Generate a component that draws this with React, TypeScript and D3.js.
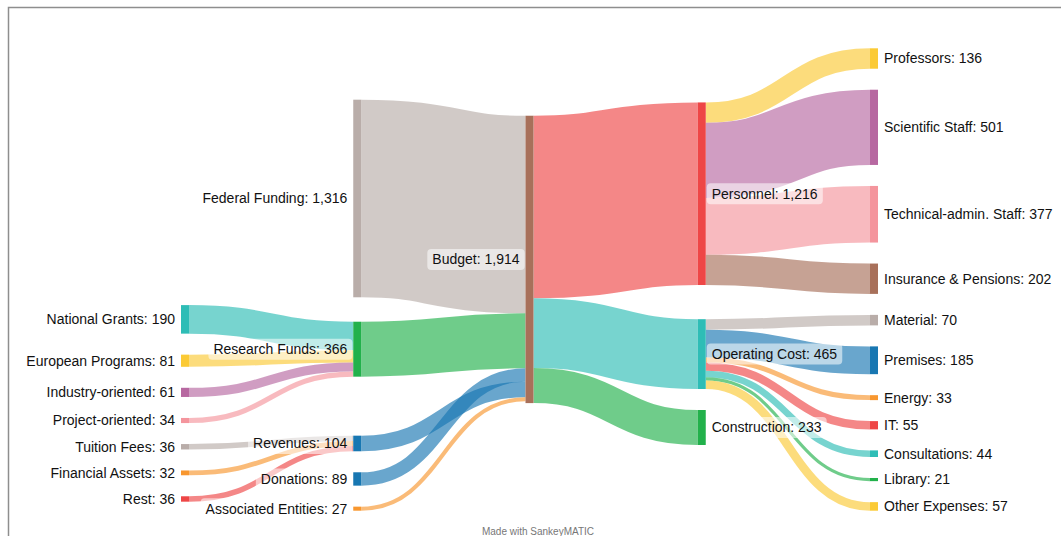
import React, { useEffect, useRef } from 'react';
import * as d3 from 'd3';

const WIDTH = 1061;
const HEIGHT = 536;

const TEAL = '#2ebdb6';
const YELLOW = '#fbca35';
const PURPLE = '#b768a1';
const PINK = '#f4959d';
const GRAY = '#b9ada9';
const ORANGE = '#f8972f';
const RED = '#ee4646';
const GREEN = '#22b14b';
const BLUE = '#1877b2';
const BROWN = '#a8705a';

const nodeNames = [
  'National Grants', 'European Programs', 'Industry-oriented', 'Project-oriented',
  'Tuition Fees', 'Financial Assets', 'Rest',
  'Federal Funding', 'Research Funds', 'Revenues', 'Donations', 'Associated Entities',
  'Budget',
  'Personnel', 'Operating Cost', 'Construction',
  'Professors', 'Scientific Staff', 'Technical-admin. Staff', 'Insurance & Pensions',
  'Material', 'Premises', 'Energy', 'IT', 'Consultations', 'Library', 'Other Expenses',
];

const nodeColors = [
  TEAL, YELLOW, PURPLE, PINK, GRAY, ORANGE, RED,
  GRAY, GREEN, BLUE, BLUE, ORANGE,
  BROWN,
  RED, TEAL, GREEN,
  YELLOW, PURPLE, PINK, BROWN,
  GRAY, BLUE, ORANGE, RED, TEAL, GREEN, YELLOW,
];

const flowFrom = [
  'National Grants', 'European Programs', 'Industry-oriented', 'Project-oriented',
  'Tuition Fees', 'Financial Assets', 'Rest',
  'Federal Funding', 'Research Funds', 'Revenues', 'Donations', 'Associated Entities',
  'Budget', 'Budget', 'Budget',
  'Personnel', 'Personnel', 'Personnel', 'Personnel',
  'Operating Cost', 'Operating Cost', 'Operating Cost', 'Operating Cost',
  'Operating Cost', 'Operating Cost', 'Operating Cost',
];
const flowTo = [
  'Research Funds', 'Research Funds', 'Research Funds', 'Research Funds',
  'Revenues', 'Revenues', 'Revenues',
  'Budget', 'Budget', 'Budget', 'Budget', 'Budget',
  'Personnel', 'Operating Cost', 'Construction',
  'Professors', 'Scientific Staff', 'Technical-admin. Staff', 'Insurance & Pensions',
  'Material', 'Premises', 'Energy', 'IT', 'Consultations', 'Library', 'Other Expenses',
];
const flowValues = [
  190, 81, 61, 34,
  36, 32, 36,
  1316, 366, 104, 89, 27,
  1216, 465, 233,
  136, 501, 377, 202,
  70, 185, 33, 55, 44, 21, 57,
];

const LEFT = 181;
const RIGHT = 878;
const TOP = 48.3;
const BOTTOM = 510.7;
const NODE_W = 8;
const PAD = 21;
const ITERATIONS = 25;
const SPREAD = 0.39;
const LINK_OPACITY = 0.65;

interface SNode {
  name: string; color: string; value: number; col: number; index: number;
  x: number; y0: number; y1: number;
  sourceLinks: SLink[]; targetLinks: SLink[];
}
interface SLink { source: SNode; target: SNode; value: number; width: number; ys: number; yt: number; index: number; }

function layout() {
  const nodes: SNode[] = nodeNames.map((name, i) => ({
    name, color: nodeColors[i], value: 0, col: 0, index: i, x: 0, y0: 0, y1: 0, sourceLinks: [], targetLinks: [],
  }));
  const byName = new Map(nodes.map((n) => [n.name, n]));
  const links: SLink[] = flowValues.map((v, i) => {
    const l = { source: byName.get(flowFrom[i])!, target: byName.get(flowTo[i])!, value: v, width: 0, ys: 0, yt: 0, index: i };
    l.source.sourceLinks.push(l);
    l.target.targetLinks.push(l);
    return l;
  });
  nodes.forEach((n) => {
    n.value = Math.max(d3.sum(n.sourceLinks, (l) => l.value), d3.sum(n.targetLinks, (l) => l.value));
  });
  let remaining: SNode[] = nodes;
  let c = 0;
  while (remaining.length) {
    const next: SNode[] = [];
    remaining.forEach((n) => {
      n.col = c;
      n.sourceLinks.forEach((l) => { if (next.indexOf(l.target) < 0) next.push(l.target); });
    });
    remaining = next;
    c++;
  }
  nodes.forEach((n) => {
    if (!n.targetLinks.length && n.sourceLinks.length) {
      n.col = (d3.min(n.sourceLinks, (l) => l.target.col) as number) - 1;
    }
  });
  const maxCol = d3.max(nodes, (n) => n.col) as number;
  const xScale = d3.scaleLinear().domain([0, maxCol]).range([LEFT, RIGHT - NODE_W]);
  nodes.forEach((n) => { n.x = xScale(n.col); });

  const columns: SNode[][] = d3.range(maxCol + 1).map((k) => nodes.filter((n) => n.col === k));
  const py = Math.min(PAD, (BOTTOM - TOP) / ((d3.max(columns, (col) => col.length) as number) - 1));

  const byTarget = (a: SLink, b: SLink) => (a.target.y0 - b.target.y0) || (a.index - b.index);
  const bySource = (a: SLink, b: SLink) => (a.source.y0 - b.source.y0) || (a.index - b.index);
  const reorderLinks = (col: SNode[]) => col.forEach((n) => { n.sourceLinks.sort(byTarget); n.targetLinks.sort(bySource); });
  const reorderNodeLinks = (n: SNode) => {
    n.targetLinks.forEach((l) => l.source.sourceLinks.sort(byTarget));
    n.sourceLinks.forEach((l) => l.target.targetLinks.sort(bySource));
  };

  const ky = d3.min(columns, (col) => (BOTTOM - TOP - (col.length - 1) * py) / d3.sum(col, (n) => n.value)) as number;
  links.forEach((l) => { l.width = l.value * ky; });
  columns.forEach((col) => {
    let y = TOP;
    col.forEach((n) => { n.y0 = y; n.y1 = y + n.value * ky; y = n.y1 + py; });
    const extra = (BOTTOM - y + py) / (col.length + 1);
    col.forEach((n, i) => { n.y0 += extra * (i + 1); n.y1 += extra * (i + 1); });
    reorderLinks(col);
  });

  const topToBottom = (col: SNode[], y: number, i: number, a: number) => {
    for (; i < col.length; ++i) {
      const n = col[i];
      const d = (y - n.y0) * a;
      if (d > 1e-6) { n.y0 += d; n.y1 += d; }
      y = n.y1 + py;
    }
  };
  const bottomToTop = (col: SNode[], y: number, i: number, a: number) => {
    for (; i >= 0; --i) {
      const n = col[i];
      const d = (n.y1 - y) * a;
      if (d > 1e-6) { n.y0 -= d; n.y1 -= d; }
      y = n.y0 - py;
    }
  };
  const resolve = (col: SNode[], a: number) => {
    const i = col.length >> 1;
    const s = col[i];
    bottomToTop(col, s.y0 - py, i - 1, a);
    topToBottom(col, s.y1 + py, i + 1, a);
    bottomToTop(col, BOTTOM, col.length - 1, a);
    topToBottom(col, TOP, 0, a);
  };
  const targetTop = (source: SNode, target: SNode) => {
    let y = source.y0 - SPREAD * (source.sourceLinks.length - 1) * py / 2;
    for (const l of source.sourceLinks) { if (l.target === target) break; y += l.width + py; }
    for (const l of target.targetLinks) { if (l.source === source) break; y -= l.width; }
    return y;
  };
  const sourceTop = (source: SNode, target: SNode) => {
    let y = target.y0 - SPREAD * (target.targetLinks.length - 1) * py / 2;
    for (const l of target.targetLinks) { if (l.source === source) break; y += l.width + py; }
    for (const l of source.sourceLinks) { if (l.target === target) break; y -= l.width; }
    return y;
  };
  const relaxLR = (a: number, b: number) => {
    for (let i = 1; i < columns.length; ++i) {
      const col = columns[i];
      col.forEach((t) => {
        let y = 0; let w = 0;
        t.targetLinks.forEach((l) => {
          const v = l.value * (t.col - l.source.col);
          y += targetTop(l.source, t) * v; w += v;
        });
        if (!(w > 0)) return;
        const d = (y / w - t.y0) * a;
        t.y0 += d; t.y1 += d;
        reorderNodeLinks(t);
      });
      resolve(col, b);
    }
  };
  const relaxRL = (a: number, b: number) => {
    for (let i = columns.length - 2; i >= 0; --i) {
      const col = columns[i];
      col.forEach((s) => {
        let y = 0; let w = 0;
        s.sourceLinks.forEach((l) => {
          const v = l.value * (l.target.col - s.col);
          y += sourceTop(s, l.target) * v; w += v;
        });
        if (!(w > 0)) return;
        const d = (y / w - s.y0) * a;
        s.y0 += d; s.y1 += d;
        reorderNodeLinks(s);
      });
      resolve(col, b);
    }
  };
  for (let i = 0; i < ITERATIONS; ++i) {
    const a = Math.pow(0.99, i);
    const b = Math.max(1 - a, (i + 1) / ITERATIONS);
    relaxRL(a, b);
    relaxLR(a, b);
  }
  nodes.forEach((n) => {
    let ys = n.y0; let yt = n.y0;
    n.sourceLinks.forEach((l) => { l.ys = ys + l.width / 2; ys += l.width; });
    n.targetLinks.forEach((l) => { l.yt = yt + l.width / 2; yt += l.width; });
  });
  return { nodes, links, maxCol };
}

export default function App() {
  const ref = useRef<SVGSVGElement>(null);
  useEffect(() => {
    document.body.style.margin = '0';
    const svg = d3.select(ref.current!);
    svg.selectAll('*').remove();
    const { nodes, links, maxCol } = layout();
    const mid = maxCol / 2;
    const fmt = d3.format(',');

    svg.append('rect').attr('x', 8.5).attr('y', 7.5).attr('width', 1200).attr('height', 700)
      .attr('fill', 'none').attr('stroke', '#8e8e8e').attr('stroke-width', 1.5);

    const linkGen = d3.linkHorizontal<any, [number, number]>().source((d: any) => d[0]).target((d: any) => d[1]);

    svg.append('g').selectAll('path').data(links).join('path')
      .attr('d', (l) => linkGen([
        [l.source.x + NODE_W, l.ys],
        [l.target.x, l.yt],
      ] as any))
      .attr('fill', 'none')
      .attr('stroke', (l) => (l.target.col > mid ? l.target.color : l.source.color))
      .attr('stroke-opacity', LINK_OPACITY)
      .attr('stroke-width', (l) => Math.max(1, l.width));

    svg.append('g').selectAll('rect').data(nodes).join('rect')
      .attr('x', (n) => n.x).attr('y', (n) => n.y0)
      .attr('width', NODE_W).attr('height', (n) => Math.max(1, n.y1 - n.y0))
      .attr('fill', (n) => n.color);

    const lg = svg.append('g');
    nodes.forEach((n) => {
      const left = n.col <= mid;
      const cy = (n.y0 + n.y1) / 2;
      const g = lg.append('g');
      const bg = g.append('rect');
      const t = g.append('text')
        .attr('x', left ? n.x - 6 : n.x + NODE_W + 6)
        .attr('y', cy)
        .attr('dy', '0.35em')
        .attr('text-anchor', left ? 'end' : 'start')
        .attr('font-family', '"Liberation Sans", Arial, Helvetica, sans-serif')
        .attr('font-size', 14)
        .attr('fill', '#111')
        .text(`${n.name}: ${fmt(n.value)}`);
      const bb = (t.node() as SVGTextElement).getBBox();
      bg.attr('x', bb.x - 5).attr('y', cy - 10.5).attr('width', bb.width + 10).attr('height', 21)
        .attr('rx', 4).attr('fill', '#fff').attr('fill-opacity', 0.55);
    });

    svg.append('text')
      .attr('x', 538).attr('y', 534.5)
      .attr('text-anchor', 'middle')
      .attr('font-family', '"Liberation Sans", Arial, Helvetica, sans-serif')
      .attr('font-size', 10)
      .attr('fill', '#777')
      .text('Made with SankeyMATIC');
  }, []);
  return <svg ref={ref} width={WIDTH} height={HEIGHT} style={{ display: 'block' }} />;
}
